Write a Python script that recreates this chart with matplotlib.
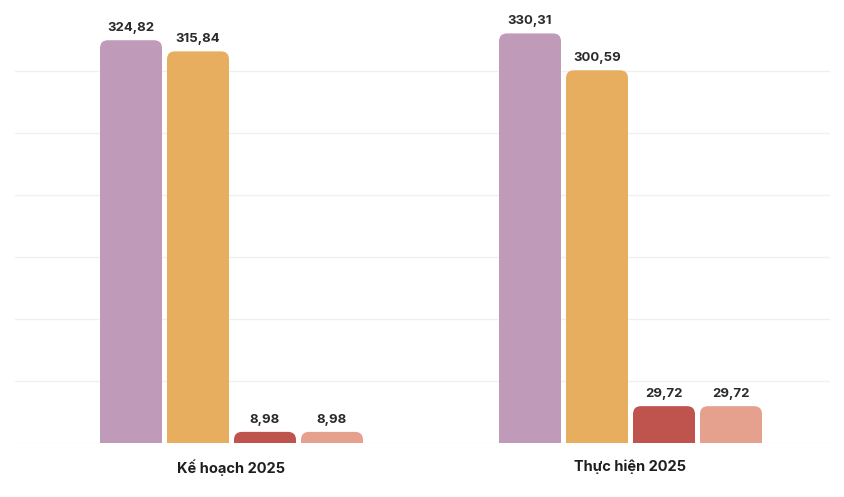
import matplotlib.pyplot as plt
from matplotlib.patches import FancyBboxPatch
import numpy as np

plt.rcParams['font.family'] = ['Inter', 'DejaVu Sans']

groups = ["Kế hoạch 2025", "Thực hiện 2025"]
series_1 = [324.82, 330.31]
series_2 = [315.84, 300.59]
series_3 = [8.98, 29.72]
series_4 = [8.98, 29.72]
labels_1 = ["324,82", "330,31"]
labels_2 = ["315,84", "300,59"]
labels_3 = ["8,98", "29,72"]
labels_4 = ["8,98", "29,72"]

colors = ["#bf9bb9", "#e8ae60", "#bf544e", "#e6a18e"]

fig = plt.figure(figsize=(8.45, 4.97), dpi=100)
ax = fig.add_axes([15 / 845, 54 / 497, 815 / 845, 434 / 497])
ax.set_xlim(-0.5426, 1.5)
ax.set_ylim(0, 350)

for y in range(0, 350, 50):
    ax.axhline(y, color="#f0f0f0", lw=1, zorder=0)

x = np.arange(len(groups))
width = 62 / 399
step = 67 / 399
all_vals = [series_1, series_2, series_3, series_4]
all_labels = [labels_1, labels_2, labels_3, labels_4]

# pixel scales for rounded corners
px_x = (1.5 + 0.5426) / 815
px_y = 350 / 434
r = 8  # corner radius in px

for i, (vals, labs) in enumerate(zip(all_vals, all_labels)):
    pos = x + (i - 1.5) * step
    bars = ax.bar(pos, vals, width, color=colors[i], alpha=0)
    for b, v, lab in zip(bars, vals, labs):
        x0 = b.get_x()
        y0 = -r * px_y
        p = FancyBboxPatch((x0, y0), width, v - y0,
                           boxstyle="round,pad=0,rounding_size=%f" % (r * px_x),
                           mutation_aspect=px_y / px_x,
                           fc=colors[i], ec="none", zorder=2)
        ax.add_patch(p)
        ax.text(b.get_x() + width / 2, v + 6 * px_y, lab, ha="center", va="bottom",
                fontsize=9.5, fontweight="bold", color="#2a2a2a")

ax.set_xticks(x)
ax.set_xticklabels(groups, fontsize=10.5, fontweight="bold", color="#1e1e1e")
ax.tick_params(axis="x", length=0, pad=12)
ax.set_yticks([])
for s in ax.spines.values():
    s.set_visible(False)

fig.savefig("out.png", dpi=100)
